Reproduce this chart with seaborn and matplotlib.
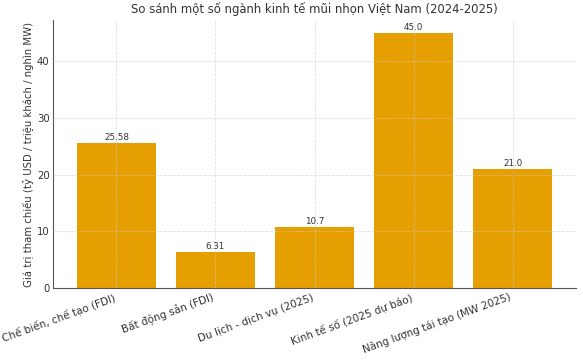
import matplotlib
matplotlib.use("Agg")
import matplotlib.pyplot as plt
import seaborn as sns
import pandas as pd

categories = ["Chế biến, chế tạo (FDI)", "Bất động sản (FDI)", "Du lịch - dịch vụ (2025)",
              "Kinh tế số (2025 dự báo)", "Năng lượng tái tạo (MW 2025)"]
values = [25.58, 6.31, 10.7, 45.0, 21.0]
value_labels = ["25.58", "6.31", "10.7", "45.0", "21.0"]

df = pd.DataFrame({"cat": categories, "val": values})

plt.rcParams['font.family'] = ['DejaVu Sans']
fig, ax = plt.subplots(figsize=(5.83, 3.6), dpi=100)
sns.barplot(data=df, x="cat", y="val", color="#E69F00", saturation=1, width=0.8, ax=ax)
ax.grid(True, linestyle='--', linewidth=0.6, alpha=0.6, color='#cccccc')
ax.set_axisbelow(False)
for p, lab in zip(ax.patches, value_labels):
    ax.annotate(lab, (p.get_x() + p.get_width() / 2, p.get_height()),
                ha='center', va='bottom', fontsize=6.3, color='#333333', xytext=(0, 1), textcoords='offset points')
ax.set_title("So sánh một số ngành kinh tế mũi nhọn Việt Nam (2024-2025)", fontsize=8.4, color='#333333', pad=5)
ax.set_xlabel("")
ax.set_ylabel("Giá trị tham chiếu (tỷ USD / triệu khách / nghìn MW)", fontsize=7.3, color='#333333', labelpad=2)
ax.set_xticks(range(len(categories)))
ax.set_xticklabels(categories, rotation=20, ha='right', fontsize=7.5, color='#333333')
ax.tick_params(axis='both', length=0, pad=2.5)
ax.tick_params(axis='y', labelsize=7.3, colors='#333333')
ax.tick_params(axis='x', colors='#333333')
ax.set_ylim(0, 47.25)
ax.set_xlim(-0.64, 4.64)
for s in ['top', 'right']:
    ax.spines[s].set_visible(False)
for s in ['left', 'bottom']:
    ax.spines[s].set_color('#555555')
fig.subplots_adjust(left=0.091, right=0.988, top=0.944, bottom=0.2)
fig.savefig("out.png", dpi=100)
